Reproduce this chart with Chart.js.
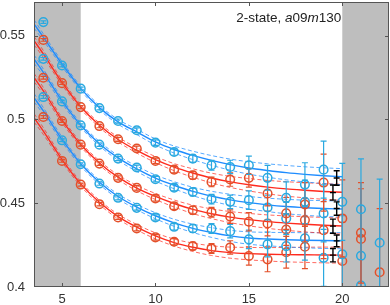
<!DOCTYPE html>
<html>
<head>
<meta charset="utf-8">
<script src="https://cdn.jsdelivr.net/npm/chart.js@4.4.0/dist/chart.umd.min.js"></script>
<style>
  html, body { margin: 0; padding: 0; background: #fff; }
</style>
</head>
<body>
<canvas id="chart" width="390" height="305"></canvas>
<script>
// time slices of the data points
const tPts = [4, 5, 6, 7, 8, 9, 10, 11, 12, 13, 14, 15, 16, 17, 18, 19, 20, 21, 22];
const blue1 = [0.558, 0.5321, 0.5183, 0.5067, 0.499, 0.4935, 0.4861, 0.4805, 0.4766, 0.4726, 0.4716, 0.4726, 0.4651, 0.4532, 0.4611, 0.470, 0.4508, 0.4464, 0.4264];
const red1  = [0.5474, 0.5216, 0.5073, 0.496, 0.4881, 0.4826, 0.4752, 0.470, 0.4667, 0.4627, 0.4641, 0.4651, 0.4558, 0.4439, 0.4492, 0.4623, 0.4409, 0.4323, null];
const blue2 = [0.5361, 0.5107, 0.4964, 0.4849, 0.4766, 0.4713, 0.4643, 0.4593, 0.4567, 0.4524, 0.4508, 0.4518, 0.4474, 0.4409, 0.4508, 0.4439, null, 0.4186, null];
const red2  = [0.5248, 0.499, 0.4849, 0.4736, 0.4651, 0.4591, 0.4528, 0.4482, 0.4458, 0.4446, 0.442, 0.4389, 0.4379, 0.4343, 0.4399, 0.4339, null, 0.4286, null];
const blue3 = [0.5133, 0.4875, 0.4732, 0.4617, 0.4532, 0.4472, 0.4415, 0.4359, 0.4349, 0.4349, 0.4333, 0.4284, 0.4254, 0.4244, 0.429, 0.4174, 0.4195, 0.4008, null];
const red3  = [0.5014, 0.4752, 0.4611, 0.4494, 0.4415, 0.4349, 0.4296, 0.427, 0.4244, 0.423, 0.4236, 0.4185, 0.4165, 0.4207, 0.424, null, 0.4155, null, 0.4088];
// error bar half widths per time slice
const errPts = [0.0008, 0.0008, 0.0009, 0.001, 0.0012, 0.0014, 0.0016, 0.0019, 0.0023, 0.0029, 0.004, 0.0055, 0.0074, 0.0095, 0.013, 0.017, 0.023, 0.03, 0.038];

// 2-state fit curves
const fitT = [3.5, 4, 5, 6, 7, 8, 9, 10, 11, 12, 13, 14, 15, 16, 17, 18, 19, 20];
const fitBlue1 = [0.557, 0.549, 0.533, 0.5185, 0.507, 0.4985, 0.4925, 0.4865, 0.482, 0.4785, 0.4755, 0.473, 0.471, 0.4695, 0.4682, 0.4672, 0.4664, 0.4658];
const fitRed1  = [0.547, 0.539, 0.522, 0.5075, 0.4965, 0.488, 0.4815, 0.476, 0.4715, 0.468, 0.465, 0.4627, 0.461, 0.4596, 0.4585, 0.4577, 0.457, 0.4565];
const fitBlue2 = [0.536, 0.528, 0.511, 0.4965, 0.4855, 0.477, 0.4705, 0.465, 0.4607, 0.457, 0.4542, 0.452, 0.4503, 0.449, 0.448, 0.4473, 0.4468, 0.4465];
const fitRed2  = [0.525, 0.517, 0.4995, 0.485, 0.474, 0.4655, 0.459, 0.454, 0.4498, 0.4463, 0.4437, 0.4417, 0.4402, 0.439, 0.4381, 0.4374, 0.4368, 0.4364];
const fitBlue3 = [0.513, 0.505, 0.488, 0.4735, 0.4625, 0.454, 0.4477, 0.4425, 0.4383, 0.435, 0.4325, 0.4305, 0.4292, 0.4286, 0.4282, 0.4279, 0.4277, 0.4276];
const fitRed3  = [0.501, 0.493, 0.476, 0.4615, 0.4505, 0.442, 0.4357, 0.4305, 0.4265, 0.4237, 0.4217, 0.4205, 0.4199, 0.4195, 0.4193, 0.4192, 0.4191, 0.419];
// half width of the dashed error band
const bandW = [0.0025, 0.002, 0.0015, 0.0013, 0.0013, 0.0014, 0.0016, 0.0018, 0.0021, 0.0025, 0.0029, 0.0033, 0.0037, 0.004, 0.0043, 0.0045, 0.0047, 0.0048];

// ground state results (black bars)
const e0T = [19.7, 19.5, 19.7, 19.5, 19.7, 19.5];
const e0Val = [0.465, 0.4563, 0.4468, 0.4363, 0.4275, 0.419];
const e0Err = [0.0043, 0.0045, 0.004, 0.0042, 0.0035, 0.004];

// excluded regions
const grayFrom = [3.5, 20];
const grayTo = [6, 22.5];

const xTickLabels = [5, 10, 15, 20];
const yTickLabels = [0.4, 0.45, 0.5, 0.55];

const pointBlue = '#2aa9e0', lineBlue = '#1e8cff';
const pointRed = '#e4502a', lineRed = '#ff2a1e';

Chart.defaults.font.family = '"Liberation Sans", Arial, sans-serif';
Chart.defaults.font.size = 13;
Chart.defaults.color = '#333';

function pts(ys) {
  return tPts.map((t, i) => ({ x: t, y: ys[i], e: errPts[i] })).filter(p => p.y !== null);
}
function curve(ys, sign) {
  return fitT.map((t, i) => ({ x: t, y: ys[i] + sign * bandW[i] }));
}

const series = [
  { pts: blue1, fit: fitBlue1, mark: pointBlue, line: lineBlue, dash: 'rgba(30,140,255,0.75)' },
  { pts: red1, fit: fitRed1, mark: pointRed, line: lineRed, dash: 'rgba(255,42,30,0.7)' },
  { pts: blue2, fit: fitBlue2, mark: pointBlue, line: lineBlue, dash: 'rgba(30,140,255,0.75)' },
  { pts: red2, fit: fitRed2, mark: pointRed, line: lineRed, dash: 'rgba(255,42,30,0.7)' },
  { pts: blue3, fit: fitBlue3, mark: pointBlue, line: lineBlue, dash: 'rgba(30,140,255,0.75)' },
  { pts: red3, fit: fitRed3, mark: pointRed, line: lineRed, dash: 'rgba(255,42,30,0.7)' }
];

const datasets = [];
series.forEach(s => {
  datasets.push({
    data: pts(s.pts), showLine: false, borderColor: s.mark, backgroundColor: 'rgba(0,0,0,0)',
    pointRadius: 4.3, pointBorderWidth: 1.5, errColor: s.mark, order: 0
  });
  datasets.push({
    data: curve(s.fit, 0), borderColor: s.line, borderWidth: 1.4, pointRadius: 0,
    cubicInterpolationMode: 'monotone', order: 2
  });
  [1, -1].forEach(sg => datasets.push({
    data: curve(s.fit, sg), borderColor: s.dash, borderWidth: 1, borderDash: [4, 2.5], pointRadius: 0,
    cubicInterpolationMode: 'monotone', order: 1
  }));
});

// integer ticks on the x axis (not aligned to min = 3.5)
function intTicks(s) {
  s.ticks = [];
  for (let v = Math.ceil(s.min); v <= Math.floor(s.max); v++) s.ticks.push({ value: v });
}
function noPad(s) {
  s.paddingTop = 0; s.paddingBottom = 0; s.paddingLeft = 0; s.paddingRight = 0;
}

const decor = {
  id: 'decor',
  beforeDatasetsDraw(chart) {
    const { ctx, chartArea: a, scales: { x } } = chart;
    ctx.save();
    ctx.fillStyle = '#bebebe';
    grayFrom.forEach((f, i) => {
      const x0 = x.getPixelForValue(f), x1 = x.getPixelForValue(grayTo[i]);
      ctx.fillRect(x0, a.top, x1 - x0, a.bottom - a.top);
    });
    ctx.restore();
  },
  beforeDatasetDraw(chart, args) {
    const ds = chart.data.datasets[args.index];
    if (!ds.errColor) return;
    const { ctx, chartArea: a, scales: { x, y } } = chart;
    ctx.save();
    ctx.beginPath();
    ctx.rect(a.left, a.top, a.right - a.left, a.bottom - a.top);
    ctx.clip();
    ctx.strokeStyle = ds.errColor;
    ctx.lineWidth = 1.2;
    ds.data.forEach(p => {
      const px = x.getPixelForValue(p.x);
      const y0 = y.getPixelForValue(p.y + p.e), y1 = y.getPixelForValue(p.y - p.e);
      ctx.beginPath();
      ctx.moveTo(px, y0); ctx.lineTo(px, y1);
      ctx.moveTo(px - 3, y0); ctx.lineTo(px + 3, y0);
      ctx.moveTo(px - 3, y1); ctx.lineTo(px + 3, y1);
      ctx.stroke();
    });
    ctx.restore();
  },
  afterDatasetsDraw(chart) {
    const { ctx, chartArea: a, scales: { x, y } } = chart;
    ctx.save();
    // ground state bars
    ctx.strokeStyle = '#000';
    ctx.lineWidth = 1.4;
    e0T.forEach((t, i) => {
      const px = x.getPixelForValue(t);
      const yc = y.getPixelForValue(e0Val[i]);
      const y0 = y.getPixelForValue(e0Val[i] + e0Err[i]), y1 = y.getPixelForValue(e0Val[i] - e0Err[i]);
      ctx.beginPath();
      ctx.moveTo(px, y0); ctx.lineTo(px, y1);
      [y0, yc, y1].forEach(v => { ctx.moveTo(px - 3, v); ctx.lineTo(px + 3, v); });
      ctx.stroke();
    });
    // frame
    ctx.strokeStyle = '#555';
    ctx.lineWidth = 1;
    ctx.strokeRect(a.left + 0.5, a.top + 0.5, a.right - a.left - 1, a.bottom - a.top - 1);
    // inward ticks
    ctx.beginPath();
    x.ticks.forEach(tk => {
      const px = Math.round(x.getPixelForValue(tk.value)) + 0.5;
      ctx.moveTo(px, a.bottom); ctx.lineTo(px, a.bottom - 4);
      ctx.moveTo(px, a.top); ctx.lineTo(px, a.top + 4);
    });
    y.ticks.forEach(tk => {
      const v = tk.value;
      if (v <= y.min + 1e-6 || v >= y.max - 1e-6) return;
      const py = Math.round(y.getPixelForValue(v)) + 0.5;
      ctx.moveTo(a.left, py); ctx.lineTo(a.left + 4, py);
      ctx.moveTo(a.right, py); ctx.lineTo(a.right - 4, py);
    });
    ctx.stroke();
    // label
    const parts = [['2-state, ', false], ['a', true], ['09', false], ['m', true], ['130', false]];
    const fam = '"Liberation Sans", Arial, sans-serif';
    let total = 0;
    parts.forEach(p => { ctx.font = (p[1] ? 'italic ' : '') + '13.5px ' + fam; total += ctx.measureText(p[0]).width; });
    let cx = x.getPixelForValue(grayFrom[1]) - 1 - total;
    ctx.fillStyle = '#222';
    ctx.textBaseline = 'alphabetic';
    parts.forEach(p => {
      ctx.font = (p[1] ? 'italic ' : '') + '13.5px ' + fam;
      ctx.fillText(p[0], cx, a.top + 20);
      cx += ctx.measureText(p[0]).width;
    });
    ctx.restore();
  }
};

new Chart(document.getElementById('chart'), {
  type: 'line',
  data: { datasets },
  options: {
    responsive: false,
    animation: false,
    events: [],
    devicePixelRatio: 1,
    layout: { autoPadding: false, padding: { top: 2, right: 1, left: 0, bottom: 0 } },
    plugins: { legend: { display: false }, tooltip: { enabled: false } },
    scales: {
      x: {
        type: 'linear', min: 3.5, max: 22.5,
        grid: { display: false, drawTicks: false },
        border: { display: false },
        afterBuildTicks: intTicks,
        ticks: {
          autoSkip: false, maxRotation: 0, padding: 5,
          callback: v => xTickLabels.some(l => Math.abs(l - v) < 1e-6) ? String(v) : null
        },
        afterFit: s => { s.height = 18; noPad(s); }
      },
      y: {
        type: 'linear', min: 0.4, max: 0.57,
        grid: { display: false, drawTicks: false },
        border: { display: false },
        ticks: {
          stepSize: 0.01, autoSkip: false, padding: 9,
          callback: v => {
            const l = yTickLabels.find(q => Math.abs(q - v) < 1e-6);
            return l === undefined ? null : String(l);
          }
        },
        afterFit: s => { s.width = 34; noPad(s); }
      }
    }
  },
  plugins: [decor]
});
</script>
</body>
</html>
